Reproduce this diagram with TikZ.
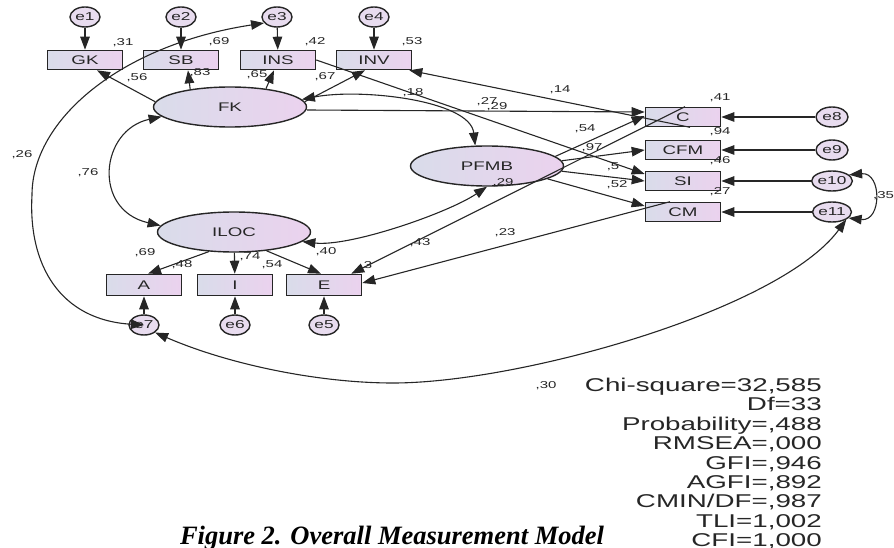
\documentclass[tikz,border=0pt]{standalone}
\usepackage{fontspec}
\setmainfont{Liberation Serif}
\newfontfamily\amosfont[FakeStretch=1.5]{Liberation Sans}
\usetikzlibrary{shapes.geometric,arrows.meta,calc}

\definecolor{boxleft}{HTML}{D9DCEA}
\definecolor{boxright}{HTML}{EBD2EE}
\definecolor{errfill}{HTML}{E8DCEF}
\definecolor{ink}{HTML}{262626}

\tikzset{
  obs/.style={draw=ink, line width=1.6pt, left color=boxleft, right color=boxright,
    minimum width=75pt, minimum height=19pt, inner sep=0pt, text=ink,
    font=\amosfont\fontsize{12.5}{12.5}\selectfont},
  lat/.style={ellipse, draw=ink, line width=1.4pt, left color=boxleft, right color=boxright,
    minimum width=153pt, minimum height=40pt, inner sep=0pt, text=ink,
    font=\amosfont\fontsize{12.5}{12.5}\selectfont},
  err/.style={ellipse, draw=ink, line width=1.4pt, fill=errfill,
    minimum width=30pt, minimum height=20pt, inner sep=0pt, text=ink,
    font=\amosfont\fontsize{11.5}{11.5}\selectfont},
  est/.style={inner sep=0pt, text=ink, font=\amosfont\fontsize{10}{10}\selectfont},
  gof/.style={inner sep=0pt, anchor=base east, text=ink,
    font=\amosfont\fontsize{18.5}{18.5}\selectfont},
  reg/.style={draw=ink, line width=1.1pt, -{Triangle[length=13pt,width=9.5pt]}},
  cov/.style={draw=ink, line width=1.1pt,
    {Triangle[length=13pt,width=9.5pt]}-{Triangle[length=13pt,width=9.5pt]}},
}

\begin{document}
\begin{tikzpicture}[x=1pt, y=-1pt]
  \useasboundingbox (0,0) rectangle (894,548);

  % error terms
  \node[err] (e1) at (85,17) {e1};
  \node[err] (e2) at (181,17) {e2};
  \node[err] (e3) at (277,17) {e3};
  \node[err] (e4) at (374,17) {e4};
  \node[err] (e7) at (144,325) {e7};
  \node[err] (e6) at (235,325) {e6};
  \node[err] (e5) at (324,325) {e5};
  \node[err, minimum width=32pt] (e8) at (832,117) {e8};
  \node[err, minimum width=32pt] (e9) at (832,150) {e9};
  \node[err, minimum width=32pt] (e10) at (832,181) {e10};
  \node[err, minimum width=32pt] (e11) at (832,212) {e11};

  % observed variables
  \node[obs] (GK) at (85,60) {GK};
  \node[obs] (SB) at (181,60) {SB};
  \node[obs] (INS) at (278,60) {INS};
  \node[obs] (INV) at (374,60) {INV};
  \node[obs, minimum height=21pt] (A) at (144,285) {A};
  \node[obs, minimum height=21pt] (I) at (235,285) {I};
  \node[obs, minimum height=21pt] (E) at (324,285) {E};
  \node[obs] (C) at (683,117) {C};
  \node[obs] (CFM) at (683,150) {CFM};
  \node[obs] (SI) at (683,181) {SI};
  \node[obs] (CM) at (683,212) {CM};

  % latent variables
  \node[lat] (FK) at (230,107) {FK};
  \node[lat] (PFMB) at (487,166) {PFMB};
  \node[lat] (ILOC) at (234,232) {ILOC};

  % estimates
  \node[est] (rGK) at (123,43) {,31};
  \node[est] (rSB) at (219,42) {,69};
  \node[est] (rINS) at (315,42) {,42};
  \node[est] (rINV) at (412,42) {,53};
  \node[est] (lGK) at (137,78) {,56};
  \node[est] (lSB) at (200,73) {,83};
  \node[est] (lINS) at (257,75) {,65};
  \node[est] (lINV) at (325,77) {,67};
  \node[est] (cFKP) at (413,93) {,18};
  \node[est] (bINSSI) at (487,102) {,27};
  \node[est] (bFKC) at (497,107) {,29};
  \node[est] (bCINV) at (560,90) {,14};
  \node[est] (rC) at (720,98) {,41};
  \node[est] (rCFM) at (720,132) {,94};
  \node[est] (rSI) at (720,161) {,46};
  \node[est] (rCM) at (720,192) {,27};
  \node[est] (lC) at (585,129) {,54};
  \node[est] (lCFM) at (592,148) {,97};
  \node[est] (lSI) at (613,167) {,5};
  \node[est] (lCM) at (617,185) {,52};
  \node[est, anchor=west] (cE) at (873,196) {,35};
  \node[est] (cEE) at (22,155) {,26};
  \node[est] (cFKI) at (88,173) {,76};
  \node[est] (lA) at (145,253) {,69};
  \node[est] (rA) at (182,265) {,48};
  \node[est] (lI) at (250,257) {,74};
  \node[est] (rI) at (272,265) {,54};
  \node[est] (lE) at (326,252) {,40};
  \node[est] (rPFMB) at (503,183) {,29};
  \node[est] (bCE) at (420,243) {,43};
  \node[est] (bCME) at (505,233) {,23};
  \node[est] (rE) at (366,266) {,3};
  \node[est] (cEB) at (546,386) {,30};

  % residual paths
  \draw[reg] (e1) -- (GK);
  \draw[reg] (e2) -- (SB);
  \draw[reg] (e3) -- (INS);
  \draw[reg] (e4) -- (INV);
  \draw[reg] (e7) -- (A);
  \draw[reg] (e6) -- (I);
  \draw[reg] (e5) -- (E);
  \draw[reg] (e8) -- (C);
  \draw[reg] (e9) -- (CFM);
  \draw[reg] (e10) -- (SI);
  \draw[reg] (e11) -- (CM);

  % loadings
  \draw[reg] (FK.176) -- ($(GK.south)+(12,0)$);
  \draw[reg] (FK.156) -- ($(SB.south)+(7,0)$);
  \draw[reg] (FK.27) -- ($(INS.south)+(-4,0)$);
  \draw[reg] (FK.4) -- ($(INV.south)+(-9,0)$);
  \draw[reg] (ILOC.218) -- ($(A.north)+(4,0)$);
  \draw[reg] (ILOC) -- (I);
  \draw[reg] (ILOC.330) -- ($(E.north)+(-3,0)$);
  \draw[reg] (PFMB.8) -- ($(C.west)+(0,-1)$);
  \draw[reg] (PFMB.4) -- (CFM.west);
  \draw[reg] (PFMB.356) -- (SI.west);
  \draw[reg] (PFMB.348) -- ($(CM.west)+(0,-6)$);

  % cross paths
  \draw[reg] ($(FK.east)+(0,3)$) -- ($(C.west)+(0,-5)$);
  \draw[reg] (INS.east) -- ($(SI.west)+(0,-7)$);
  \draw[reg] ($(C.south)+(7,0)$) -- ($(INV.south east)+(-3,0)$);
  \draw[reg] ($(C.north)+(2,0)$) -- ($(E.north east)+(-11,0)$);
  \draw[reg] ($(CM.north)+(-13,0)$) -- ($(E.east)+(0,-2)$);

  % covariances
  \draw[cov] (FK.6) .. controls (360,88) and (470,100) .. (PFMB.120);
  \draw[cov] (FK.188) .. controls (100,130) and (92,210) .. (ILOC.175);
  \draw[cov] (ILOC.352) .. controls (350,247) and (448,213) .. (PFMB.south);
  \draw[cov] (e7.center) .. controls (60,320) and (28,265) .. (32,195)
    .. controls (32,120) and (120,45) .. (e3.205);
  \draw[cov] (e7.south east) .. controls (230,365) and (320,383) .. (393,383)
    .. controls (520,383) and (780,310) .. (e11.south east);
  \draw[cov] (e10.20) .. controls (882,172) and (882,222) .. (e11.340);

  % fit indices
  \foreach \txt [count=\k from 0] in {{Chi-square=32,585},{Df=33},{Probability=,488},
      {RMSEA=,000},{GFI=,946},{AGFI=,892},{CMIN/DF=,987},{TLI=1,002},{CFI=1,000}}
    \node[gof] (gof\k) at (822,{391.5+19.4*\k}) {\txt};

  \node[anchor=base, font=\fontsize{26.5}{26.5}\selectfont\bfseries\itshape] (caption)
    at (392,544) {Figure 2. Overall Measurement Model};
\end{tikzpicture}
\end{document}
